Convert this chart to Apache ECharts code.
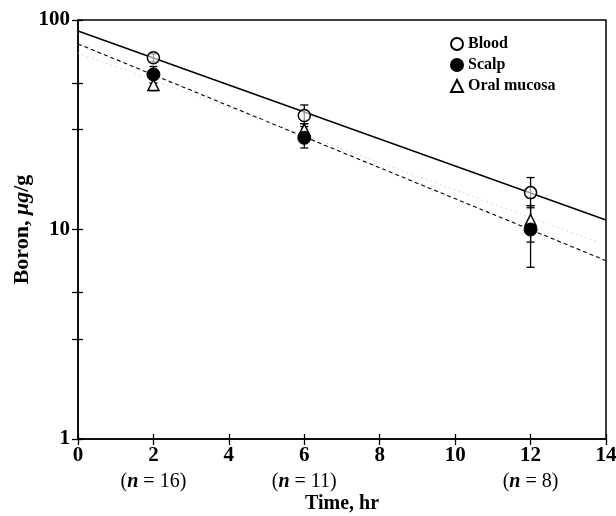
<!DOCTYPE html>
<html>
<head>
<meta charset="utf-8">
<script src="https://cdn.jsdelivr.net/npm/echarts@6/dist/echarts.min.js"></script>
<style>
  html, body { margin: 0; padding: 0; background: #fff; }
  #chart { width: 616px; height: 516px; }
</style>
</head>
<body>
<div id="chart"></div>
<script>
// measured points (time in hr, boron in ug/g)
const times = [2, 6, 12];
const sampleSizes = [16, 11, 8];
const blood = [66, 35, 15];
const bloodLow = [63, 32, 13];
const bloodHigh = [69, 39.3, 17.7];
const scalp = [55, 27.4, 10];
const scalpLow = [50, 24.5, 6.6];
const scalpHigh = [60, 31, 12.7];
const oral = [49, 30, 11.1];
const oralLow = [46, 28, 8.7];
const oralHigh = [52, 32, 13];

// fitted regression lines, value at t = 0 and t = 14
const lineTimes = [0, 14];
const bloodFit = [88.6, 11.1];
const scalpFit = [76.9, 7.1];
const oralFit = [69.6, 8.45];

const yMajor = [1, 10, 100];
const yTicks = [1, 3, 5, 10, 30, 50, 100];

const serif = '"Liberation Serif", "DejaVu Serif", serif';

function pairs(xs, ys) {
  return xs.map((x, i) => [x, ys[i]]);
}

function errorSeries(name, lo, hi) {
  return {
    type: 'custom',
    name: name + ' err',
    z: 3,
    silent: true,
    data: times.map((t, i) => [t, lo[i], hi[i]]),
    renderItem: function (params, api) {
      const a = api.coord([api.value(0), api.value(1)]);
      const b = api.coord([api.value(0), api.value(2)]);
      const w = 4;
      const st = { stroke: '#000', lineWidth: 1.3 };
      return {
        type: 'group',
        children: [
          { type: 'line', shape: { x1: a[0], y1: a[1], x2: b[0], y2: b[1] }, style: st },
          { type: 'line', shape: { x1: a[0] - w, y1: a[1], x2: a[0] + w, y2: a[1] }, style: st },
          { type: 'line', shape: { x1: b[0] - w, y1: b[1], x2: b[0] + w, y2: b[1] }, style: st }
        ]
      };
    }
  };
}

const chart = echarts.init(document.getElementById('chart'), null, { renderer: 'canvas' });

const nMap = {};
times.forEach((t, i) => { nMap[t] = sampleSizes[i]; });

chart.setOption({
  animation: false,
  backgroundColor: '#fff',
  grid: {
    left: 78, right: 10, top: 20, bottom: 77,
    outerBoundsMode: 'none',
    show: true, borderColor: '#000', borderWidth: 1.5
  },
  legend: {
    orient: 'vertical',
    left: 445, top: 31,
    itemGap: 5,
    itemWidth: 12, itemHeight: 12,
    data: ['Blood', 'Scalp', 'Oral mucosa'],
    textStyle: { fontFamily: serif, fontSize: 16, fontWeight: 'bold', color: '#000' }
  },
  xAxis: [{
    type: 'value',
    min: 0, max: 14, interval: 2,
    name: 'Time, hr',
    nameLocation: 'middle',
    nameGap: 55,
    nameMoveOverlap: false,
    nameTextStyle: { fontFamily: serif, fontSize: 20, fontWeight: 'bold', color: '#000' },
    axisLine: { lineStyle: { color: '#000', width: 1.5 } },
    axisTick: { length: 6, lineStyle: { color: '#000', width: 1.3 } },
    splitLine: { show: false },
    axisLabel: {
      margin: 5,
      color: '#000',
      fontFamily: serif,
      formatter: function (v) {
        return nMap[v] ? '{v|' + v + '}\n{n|(}{i|n}{n| = ' + nMap[v] + ')}' : '{v|' + v + '}';
      },
      rich: {
        v: { fontFamily: serif, fontSize: 21, fontWeight: 'bold', color: '#000', lineHeight: 23 },
        n: { fontFamily: serif, fontSize: 20, color: '#000', lineHeight: 29 },
        i: { fontFamily: serif, fontSize: 20, fontStyle: 'italic', fontWeight: 'bold', color: '#000', lineHeight: 29 }
      }
    }
  }, {
    type: 'value',
    position: 'bottom',
    min: 0, max: 14, interval: 2,
    axisLine: { show: false },
    axisTick: { inside: true, length: 5, lineStyle: { color: '#000', width: 1.3 } },
    axisLabel: { show: false },
    splitLine: { show: false }
  }],
  yAxis: [{
    type: 'log',
    logBase: 10,
    min: 1, max: 100,
    name: 'Boron, {i|μg}/g',
    nameLocation: 'middle',
    nameGap: 45,
    nameMoveOverlap: false,
    nameTextStyle: {
      fontFamily: serif, fontSize: 22, fontWeight: 'bold', color: '#000',
      rich: { i: { fontFamily: serif, fontSize: 22, fontWeight: 'bold', fontStyle: 'italic', color: '#000' } }
    },
    axisLine: { show: true, lineStyle: { color: '#000', width: 1.5 } },
    axisTick: { show: true, length: 6, customValues: yTicks, lineStyle: { color: '#000', width: 1.3 } },
    minorTick: { show: false },
    splitLine: { show: false },
    axisLabel: {
      customValues: yMajor,
      margin: 8,
      fontFamily: serif, fontSize: 21, fontWeight: 'bold', color: '#000'
    }
  }, {
    type: 'log',
    logBase: 10,
    position: 'left',
    min: 1, max: 100,
    axisLine: { show: false },
    axisTick: { show: true, inside: true, length: 5, customValues: yTicks, lineStyle: { color: '#000', width: 1.3 } },
    axisLabel: { show: false },
    splitLine: { show: false }
  }],
  series: [
    {
      type: 'line', name: 'Blood fit', data: pairs(lineTimes, bloodFit),
      symbol: 'none', z: 4, lineStyle: { color: '#000', width: 1.4 }
    },
    {
      type: 'line', name: 'Scalp fit', data: pairs(lineTimes, scalpFit),
      symbol: 'none', z: 4, lineStyle: { color: '#000', width: 1.1, type: [4, 3] }
    },
    {
      type: 'line', name: 'Oral fit', data: pairs(lineTimes, oralFit),
      symbol: 'none', z: 4, lineStyle: { color: '#c4c4c4', width: 1.1, type: [1, 4] }
    },
    errorSeries('Blood', bloodLow, bloodHigh),
    errorSeries('Scalp', scalpLow, scalpHigh),
    errorSeries('Oral', oralLow, oralHigh),
    {
      type: 'scatter', name: 'Oral mucosa', data: pairs(times, oral),
      symbol: 'triangle', symbolSize: 11, z: 5,
      itemStyle: { color: '#fff', borderColor: '#000', borderWidth: 1.5, opacity: 1 }
    },
    {
      type: 'scatter', name: 'Scalp', data: pairs(times, scalp),
      symbol: 'circle', symbolSize: 13, z: 6,
      itemStyle: { color: '#000', borderColor: '#000', borderWidth: 1, opacity: 1 }
    },
    {
      type: 'scatter', name: 'Blood', data: pairs(times, blood),
      symbol: 'circle', symbolSize: 12, z: 6,
      itemStyle: { color: 'rgba(255,255,255,0.6)', borderColor: '#000', borderWidth: 1.5, opacity: 1 }
    }
  ]
});
</script>
</body>
</html>
